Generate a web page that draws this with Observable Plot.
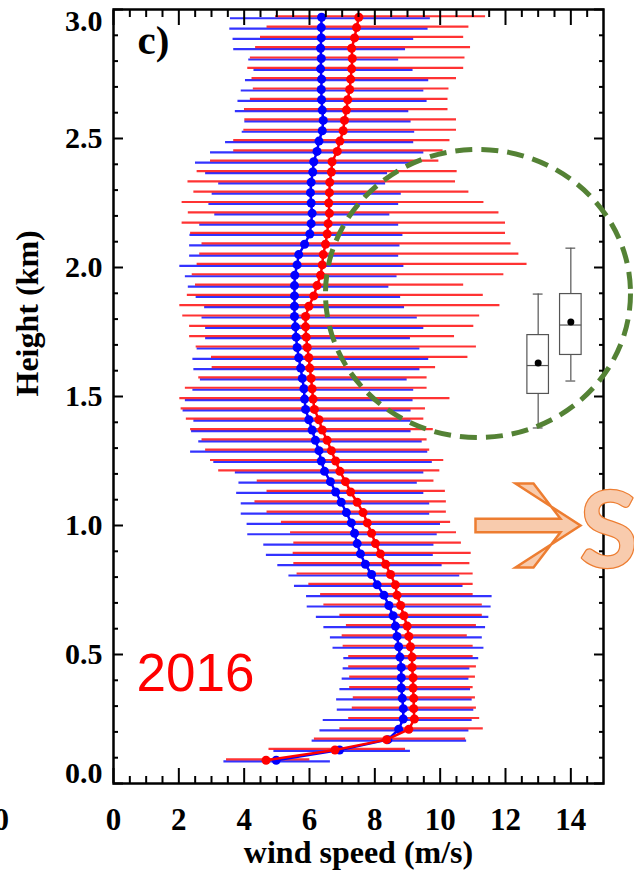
<!DOCTYPE html>
<html><head><meta charset="utf-8">
<script src="https://cdn.jsdelivr.net/npm/d3@7"></script>
<script src="https://cdn.jsdelivr.net/npm/@observablehq/plot@0.6"></script>
<style>
html,body{margin:0;padding:0;background:#fff;overflow:hidden;}
#chart{width:634px;height:874px;overflow:hidden;}
</style></head><body><div id="chart"></div>
<script>
// Heights of profile levels (km), top to bottom
const heights = [2.97,2.93,2.89,2.85,2.81,2.77,2.73,2.69,2.65,2.61,2.57,2.53,2.49,2.45,2.41,2.37,2.33,2.29,2.25,2.21,2.17,2.13,2.09,2.05,2.01,1.97,1.93,1.89,1.85,1.81,1.77,1.73,1.69,1.65,1.61,1.57,1.53,1.49,1.45,1.41,1.37,1.33,1.29,1.25,1.21,1.17,1.13,1.09,1.05,1.01,0.97,0.93,0.89,0.85,0.81,0.77,0.73,0.69,0.65,0.61,0.57,0.53,0.49,0.45,0.41,0.37,0.33,0.29,0.25,0.21,0.17,0.13,0.09];

// Blue series: mean and error-bar extents (m/s)
const blueMean = [6.37,6.36,6.36,6.34,6.36,6.34,6.37,6.36,6.37,6.39,6.42,6.39,6.29,6.23,6.13,6.10,6.05,6.03,6.05,6.08,6.05,6.01,5.85,5.67,5.62,5.55,5.54,5.54,5.54,5.54,5.57,5.59,5.62,5.67,5.73,5.78,5.83,5.85,5.88,5.98,6.08,6.18,6.29,6.36,6.46,6.64,6.80,6.97,7.13,7.28,7.38,7.46,7.56,7.71,7.90,8.07,8.28,8.43,8.56,8.63,8.68,8.73,8.77,8.81,8.81,8.81,8.84,8.87,8.87,8.73,8.40,6.92,4.98];
const blueLow = [3.58,3.56,3.66,3.68,4.14,4.30,4.04,3.91,3.81,3.73,4.02,3.94,3.43,2.97,2.51,2.82,3.22,3.02,2.92,3.10,2.64,2.34,2.33,2.33,2.03,2.20,2.29,2.53,2.79,2.71,2.82,2.82,2.56,2.43,2.46,2.66,2.43,2.20,2.13,2.46,2.39,2.61,2.36,3.07,3.73,3.84,3.77,3.91,3.91,4.09,4.11,4.60,4.68,5.03,5.37,5.54,5.91,5.93,6.21,6.44,6.64,6.72,7.05,7.03,7.00,6.93,6.83,6.85,6.42,6.32,6.08,4.91,3.38];
const blueHigh = [9.70,9.63,9.19,8.94,8.73,9.17,9.65,9.50,9.60,9.04,9.11,9.22,9.19,9.50,9.30,8.39,8.33,8.81,8.73,8.46,8.73,8.86,8.77,8.73,8.89,8.68,8.43,8.79,8.91,9.30,9.50,9.09,9.38,9.65,9.38,8.99,9.19,9.17,9.11,9.11,9.11,9.45,9.62,9.76,9.50,9.30,9.50,9.68,9.68,10.01,9.91,9.81,9.79,10.06,10.60,10.70,11.59,11.56,11.49,11.39,11.29,11.34,11.18,10.91,10.88,10.93,10.98,11.03,10.98,10.88,10.81,9.09,6.64];

// Red series: mean and error-bar extents (m/s)
const redMean = [7.51,7.44,7.38,7.29,7.31,7.29,7.26,7.23,7.17,7.13,7.07,7.03,6.93,6.85,6.69,6.67,6.62,6.61,6.59,6.61,6.57,6.54,6.49,6.42,6.39,6.34,6.23,6.13,5.98,5.88,5.88,5.90,5.93,5.98,6.01,6.05,6.08,6.11,6.15,6.29,6.39,6.54,6.67,6.80,6.93,7.10,7.26,7.46,7.64,7.77,7.90,8.02,8.17,8.33,8.48,8.63,8.68,8.79,8.89,8.99,9.04,9.09,9.14,9.14,9.17,9.17,9.19,9.19,9.21,9.04,8.36,6.78,4.67];
const redLow = [4.96,4.70,4.50,4.35,4.19,4.11,4.24,4.28,4.19,4.01,4.02,3.99,3.68,3.68,2.97,2.56,2.28,2.46,2.10,2.29,2.10,2.36,2.71,2.64,2.56,2.41,2.51,2.26,2.03,2.12,2.33,2.33,2.53,3.00,3.02,2.61,2.20,2.03,2.07,2.23,2.36,2.71,2.82,2.97,3.22,4.40,4.70,4.33,4.70,5.14,5.42,5.52,5.50,5.52,5.62,5.98,6.34,6.44,6.93,7.13,7.00,7.03,7.20,7.20,7.23,7.23,7.34,7.31,7.20,6.93,6.15,4.76,3.46];
const redHigh = [11.39,10.88,10.72,10.93,10.76,10.72,10.50,10.27,10.24,10.24,10.50,10.50,10.30,10.09,9.96,10.52,10.47,10.88,11.34,11.80,12.00,12.00,12.17,12.41,12.66,11.95,10.72,11.32,11.83,11.21,11.03,10.44,11.11,10.85,9.86,9.60,9.60,10.30,9.55,9.50,9.79,9.60,9.68,10.11,9.99,9.81,10.16,10.19,10.19,10.32,10.50,10.65,10.95,10.91,11.01,11.01,11.01,11.29,11.29,11.11,10.83,11.01,11.01,11.11,11.08,11.01,11.08,11.11,11.21,11.32,10.78,8.94,6.01];

// Inset box plots
const boxX = [13, 14];
const boxLow = [1.378, 1.56];
const boxQ1 = [1.51, 1.661];
const boxMedian = [1.62, 1.777];
const boxQ3 = [1.738, 1.897];
const boxHigh = [1.897, 2.075];
const boxMeanV = [1.63, 1.789];

// Axis ticks
const xMajor = [0, 2, 4, 6, 8, 10, 12, 14];
const yMajor = [0, 0.5, 1, 1.5, 2, 2.5, 3];
const yLabelMid = [0.5, 1, 1.5, 2, 2.5];
const xMinor = d3.range(1, 30).filter(i => i % 4).map(i => i / 2);
const yMinor = d3.range(1, 30).filter(i => i % 5).map(i => i / 10);

const blueRows = heights.map((h, i) => ({h, mean: blueMean[i], lo: blueLow[i], hi: blueHigh[i]}));
const redRows = heights.map((h, i) => ({h, mean: redMean[i], lo: redLow[i], hi: redHigh[i]}));
const boxes = boxX.map((x, i) => ({x, lo: boxLow[i], q1: boxQ1[i], med: boxMedian[i], q3: boxQ3[i], hi: boxHigh[i], mean: boxMeanV[i]}));

const BOXW = 0.33, CAPW = 0.15;

const ellipseSymbol = {
  draw(context, size) {
    const r = Math.sqrt(size / Math.PI);
    const rx = r * 1.029, ry = r * 0.972, k = 0.5523;
    context.moveTo(rx, 0);
    context.bezierCurveTo(rx, ry * k, rx * k, ry, 0, ry);
    context.bezierCurveTo(-rx * k, ry, -rx, ry * k, -rx, 0);
    context.bezierCurveTo(-rx, -ry * k, -rx * k, -ry, 0, -ry);
    context.bezierCurveTo(rx * k, -ry, rx, -ry * k, rx, 0);
    context.closePath();
  }
};
const arrowOutline = [[-52.5,-6.7],[32.5,-6.7],[5.5,-42],[-12.5,-42],[52.5,0],[-12.5,42],[5.5,42],[32.5,6.7],[-52.5,6.7]];
const arrowSymbol = {
  draw(context, size) {
    const s = Math.sqrt(size / Math.PI) / 52.5;
    arrowOutline.forEach(([px, py], i) => i ? context.lineTo(px * s, py * s) : context.moveTo(px * s, py * s));
    context.closePath();
  }
};

const serif = "'Liberation Serif', 'Times New Roman', Times, serif";

const chart = Plot.plot({
  width: 634,
  height: 874,
  marginLeft: 113,
  marginRight: 31,
  marginTop: 9,
  marginBottom: 91,
  x: {domain: [0, 15]},
  y: {domain: [0, 3]},
  style: {fontFamily: serif, fontWeight: "bold", color: "black", background: "white", overflow: "hidden"},
  marks: [
    // error bars
    Plot.ruleY(blueRows, {y: "h", x1: "lo", x2: "hi", stroke: "#0000ff", strokeWidth: 2.2, strokeOpacity: 0.8, dy: 1}),
    Plot.ruleY(redRows, {y: "h", x1: "lo", x2: "hi", stroke: "#ff0000", strokeWidth: 2.2, strokeOpacity: 0.8, dy: -1}),
    // mean profiles
    Plot.line(blueRows, {x: "mean", y: "h", stroke: "#0000ff", strokeWidth: 2.5}),
    Plot.dot(blueRows, {x: "mean", y: "h", r: 4.5, fill: "#0000ff"}),
    Plot.line(redRows, {x: "mean", y: "h", stroke: "#ff0000", strokeWidth: 2.5}),
    Plot.dot(redRows, {x: "mean", y: "h", r: 4.5, fill: "#ff0000"}),
    // box plots
    Plot.ruleX(boxes, {x: "x", y1: "q3", y2: "hi", stroke: "#555", strokeWidth: 1.2}),
    Plot.ruleX(boxes, {x: "x", y1: "lo", y2: "q1", stroke: "#555", strokeWidth: 1.2}),
    Plot.ruleY(boxes, {y: "hi", x1: d => d.x - CAPW, x2: d => d.x + CAPW, stroke: "#555", strokeWidth: 1.2}),
    Plot.ruleY(boxes, {y: "lo", x1: d => d.x - CAPW, x2: d => d.x + CAPW, stroke: "#555", strokeWidth: 1.2}),
    Plot.rect(boxes, {x1: d => d.x - BOXW, x2: d => d.x + BOXW, y1: "q1", y2: "q3", fill: "white", stroke: "#555", strokeWidth: 1.2}),
    Plot.ruleY(boxes, {y: "med", x1: d => d.x - BOXW, x2: d => d.x + BOXW, stroke: "#555", strokeWidth: 1.2}),
    Plot.dot(boxes, {x: "x", y: "mean", r: 3.5, fill: "black"}),
    // frame and ticks
    Plot.frame({stroke: "black", strokeWidth: 2.5}),
    Plot.axisX({anchor: "bottom", ticks: xMajor, tickSize: -15, fill: "none", strokeWidth: 2}),
    Plot.axisX({anchor: "bottom", ticks: xMinor, tickSize: -7, fill: "none", strokeWidth: 2}),
    Plot.axisX({anchor: "top", ticks: xMajor, tickSize: -15, fill: "none", strokeWidth: 2}),
    Plot.axisX({anchor: "top", ticks: xMinor, tickSize: -7, fill: "none", strokeWidth: 2}),
    Plot.axisY({anchor: "left", ticks: yMajor, tickSize: -10, fill: "none", strokeWidth: 2}),
    Plot.axisY({anchor: "left", ticks: yMinor, tickSize: -5, fill: "none", strokeWidth: 2}),
    Plot.axisY({anchor: "right", ticks: yMajor, tickSize: -10, fill: "none", strokeWidth: 2}),
    Plot.axisY({anchor: "right", ticks: yMinor, tickSize: -5, fill: "none", strokeWidth: 2}),
    // tick labels
    Plot.axisX({anchor: "bottom", ticks: xMajor, tickSize: 0, stroke: "none", tickPadding: 24, fontSize: 31, label: null, tickFormat: d => String(d)}),
    Plot.axisY({anchor: "left", ticks: yLabelMid, tickSize: 0, stroke: "none", tickPadding: 11, fontSize: 30, label: null, tickFormat: d => d.toFixed(1)}),
    Plot.axisY({anchor: "left", ticks: [3], tickSize: 0, stroke: "none", tickPadding: 11, fontSize: 30, label: null, dy: 12, tickFormat: d => d.toFixed(1)}),
    Plot.axisY({anchor: "left", ticks: [0], tickSize: 0, stroke: "none", tickPadding: 11, fontSize: 30, label: null, dy: -10, tickFormat: d => d.toFixed(1)}),
    // axis titles
    Plot.text(["wind speed (m/s)"], {text: d => d, frameAnchor: "bottom", dy: 69, fontSize: 32, lineAnchor: "middle", fill: "black"}),
    Plot.text(["Height (km)"], {text: d => d, frameAnchor: "left", dx: -86, rotate: -90, fontSize: 32, lineAnchor: "middle", fill: "black"}),
    // neighbouring panel remnant
    Plot.text(["0"], {text: d => d, frameAnchor: "bottom-left", dx: -120, dy: 24, fontSize: 31, lineAnchor: "top", fill: "black"}),
    // panel label
    Plot.text(["c)"], {text: d => d, frameAnchor: "top-left", dx: 24, dy: 44, fontSize: 41, textAnchor: "start", lineAnchor: "bottom", fill: "black"}),
    // annotation: dashed ellipse
    Plot.dot([0], {frameAnchor: "top-left", dx: 364.5, dy: 284, r: 148.2, symbol: ellipseSymbol, fill: "none", stroke: "#548235", strokeWidth: 5, strokeDasharray: "17,9"}),
    // year label
    Plot.text(["2016"], {text: d => d, frameAnchor: "top-left", dx: 23, dy: 681, fontSize: 53, fontWeight: "normal", fontFamily: "'Liberation Sans', Arial, sans-serif", textAnchor: "start", lineAnchor: "bottom", fill: "#ff0000"}),
    // arrow annotation
    Plot.dot([0], {frameAnchor: "top-left", dx: 414.5, dy: 516, r: 52.5, symbol: arrowSymbol, fill: "#F8CBAD", stroke: "#ED7D31", strokeWidth: 2.5}),
    Plot.text(["S"], {text: d => d, frameAnchor: "top-left", dx: 466, dy: 557, fontSize: 106, fontWeight: "bold", fontFamily: "Lato, 'Open Sans', sans-serif", textAnchor: "start", lineAnchor: "bottom", fill: "#F8CBAD", stroke: "#ED7D31", strokeWidth: 2.5})
  ]
});
document.getElementById("chart").appendChild(chart);
</script>
</body></html>
